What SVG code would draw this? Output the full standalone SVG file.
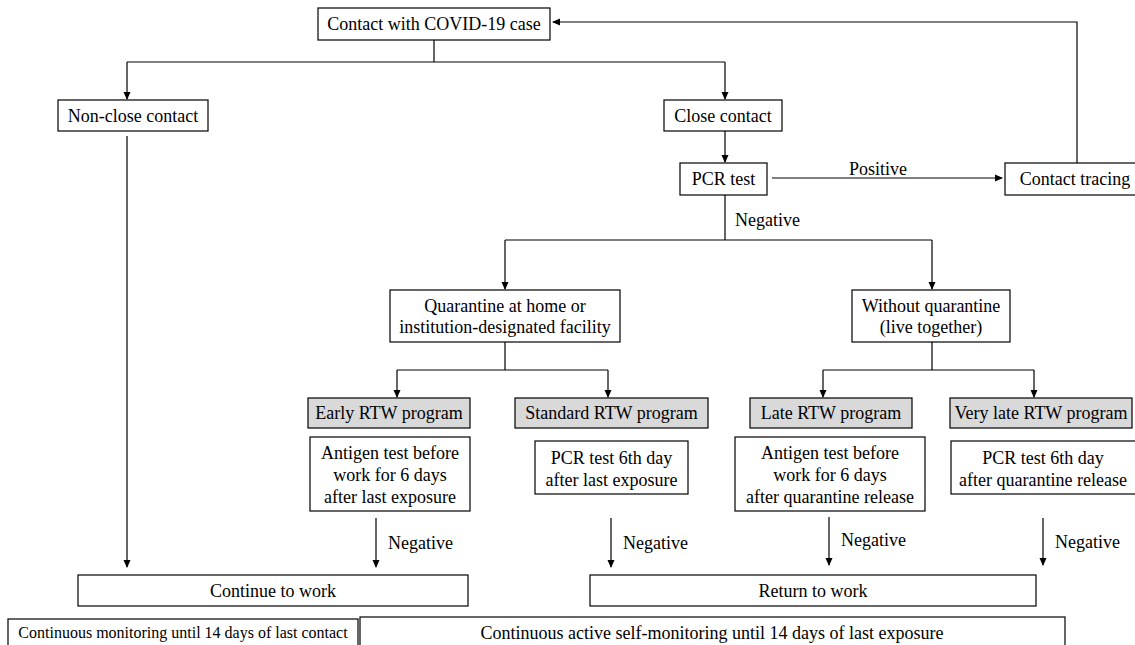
<svg xmlns="http://www.w3.org/2000/svg" width="1135" height="645" viewBox="0 0 1135 645">
<style>
text{font-family:"Liberation Serif","Times New Roman","DejaVu Serif",serif;font-size:18px;fill:#000;text-anchor:middle}
.b{fill:#fff;stroke:#000;stroke-width:1.2}
.g{fill:#d9d9d9;stroke:#000;stroke-width:1.2}
.c{fill:none;stroke:#000;stroke-width:1.2}
.s{font-size:16px}
.l{text-anchor:start}
</style>
<defs>
<marker id="ah" markerWidth="8" markerHeight="8" refX="7" refY="4" orient="auto" markerUnits="userSpaceOnUse">
<path d="M0,0.5 L8,4 L0,7.5 Z" fill="#000"/>
</marker>
</defs>
<rect width="1135" height="645" fill="#fff"/>
<g id="connectors">
<path class="c" d="M1077,163 V22 H553" marker-end="url(#ah)"/>
<path class="c" d="M434,40 V62"/>
<path class="c" d="M127,62 H725"/>
<path class="c" d="M127,62 V99" marker-end="url(#ah)"/>
<path class="c" d="M725,62 V99" marker-end="url(#ah)"/>
<path class="c" d="M725,131 V162" marker-end="url(#ah)"/>
<path class="c" d="M772,178 H1002" marker-end="url(#ah)"/>
<text x="878" y="175">Positive</text>
<path class="c" d="M725,195 V240"/>
<text class="l" x="735" y="226">Negative</text>
<path class="c" d="M505,240 H932"/>
<path class="c" d="M505,240 V289" marker-end="url(#ah)"/>
<path class="c" d="M932,240 V289" marker-end="url(#ah)"/>
<path class="c" d="M505,342 V370 M397,370 H608"/>
<path class="c" d="M397,370 V397" marker-end="url(#ah)"/>
<path class="c" d="M608,370 V397" marker-end="url(#ah)"/>
<path class="c" d="M932,342 V370 M823,370 H1034"/>
<path class="c" d="M823,370 V397" marker-end="url(#ah)"/>
<path class="c" d="M1034,370 V397" marker-end="url(#ah)"/>
<path class="c" d="M127,136 V567" marker-end="url(#ah)"/>
<path class="c" d="M376,518 V567" marker-end="url(#ah)"/>
<text class="l" x="388" y="549">Negative</text>
<path class="c" d="M611,518 V567" marker-end="url(#ah)"/>
<text class="l" x="623" y="549">Negative</text>
<path class="c" d="M829,517 V565" marker-end="url(#ah)"/>
<text class="l" x="841" y="546">Negative</text>
<path class="c" d="M1043,518 V565" marker-end="url(#ah)"/>
<text class="l" x="1055" y="548">Negative</text>
</g>
<g id="n-contact"><rect class="b" x="318" y="8" width="232" height="32"/><text x="434" y="30">Contact with COVID-19 case</text></g>
<g id="n-nonclose"><rect class="b" x="58" y="100" width="150" height="31"/><text x="133" y="121.5">Non-close contact</text></g>
<g id="n-close"><rect class="b" x="664" y="100" width="118" height="31"/><text x="723" y="121.5">Close contact</text></g>
<g id="n-pcr"><rect class="b" x="680" y="163" width="87" height="32"/><text x="723.5" y="185">PCR test</text></g>
<g id="n-tracing"><rect class="b" x="1005" y="163" width="140" height="32"/><text x="1075" y="185">Contact tracing</text></g>
<g id="n-quarantine"><rect class="b" x="390" y="290" width="230" height="52"/><text x="505" y="312">Quarantine at home or</text><text x="505" y="333">institution-designated facility</text></g>
<g id="n-without"><rect class="b" x="852" y="290" width="158" height="52"/><text x="931" y="312">Without quarantine</text><text x="931" y="333">(live together)</text></g>
<g id="n-early"><rect class="g" x="308" y="398" width="162" height="30"/><text x="389" y="419">Early RTW program</text></g>
<g id="n-standard"><rect class="g" x="515" y="398" width="193" height="30"/><text x="611.5" y="419">Standard RTW program</text></g>
<g id="n-late"><rect class="g" x="750" y="398" width="162" height="30"/><text x="831" y="419">Late RTW program</text></g>
<g id="n-verylate"><rect class="g" x="950" y="398" width="182" height="30"/><text x="1041" y="419">Very late RTW program</text></g>
<g id="n-early-test"><rect class="b" x="310" y="437" width="160" height="74"/><text x="390" y="459">Antigen test before</text><text x="390" y="481">work for 6 days</text><text x="390" y="502.5">after last exposure</text></g>
<g id="n-standard-test"><rect class="b" x="535" y="441" width="153" height="53"/><text x="611.5" y="464">PCR test 6th day</text><text x="611.5" y="485.5">after last exposure</text></g>
<g id="n-late-test"><rect class="b" x="735" y="437" width="190" height="74"/><text x="830" y="459">Antigen test before</text><text x="830" y="481">work for 6 days</text><text x="830" y="502.5">after quarantine release</text></g>
<g id="n-verylate-test"><rect class="b" x="951" y="441" width="190" height="53"/><text x="1043" y="464">PCR test 6th day</text><text x="1043" y="485.5">after quarantine release</text></g>
<g id="n-continue"><rect class="b" x="78" y="575" width="390" height="31"/><text x="273" y="597">Continue to work</text></g>
<g id="n-return"><rect class="b" x="590" y="575" width="446" height="31"/><text x="813" y="597">Return to work</text></g>
<g id="n-monitor"><rect class="b" x="8" y="619" width="350" height="30"/><text class="s" x="183" y="638">Continuous monitoring until 14 days of last contact</text></g>
<g id="n-selfmonitor"><rect class="b" x="360" y="617" width="705" height="32"/><text x="712" y="639">Continuous active self-monitoring until 14 days of last exposure</text></g>
</svg>
